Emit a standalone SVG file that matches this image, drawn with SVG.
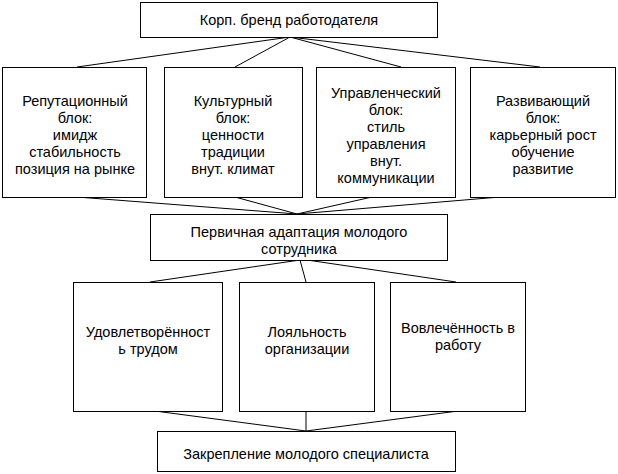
<svg xmlns="http://www.w3.org/2000/svg" width="618" height="474" viewBox="0 0 618 474">
<style>
rect{fill:#fff;stroke:#000;stroke-width:1}
text{font-family:"Liberation Sans",Arial,sans-serif;font-size:14.5px;text-anchor:middle;fill:#000}
#connectors line{stroke:#000;stroke-width:1}
</style>
<rect x="0" y="0" width="618" height="474" style="stroke:none"/>
<g id="connectors">
<line x1="290" y1="37" x2="77" y2="67"/><line x1="290" y1="37" x2="235" y2="67"/><line x1="290" y1="37" x2="401" y2="67"/><line x1="290" y1="37" x2="540" y2="67"/>
<line x1="77" y1="197" x2="297" y2="214"/><line x1="235" y1="197" x2="297" y2="214"/><line x1="372" y1="197" x2="297" y2="214"/><line x1="500" y1="197" x2="297" y2="214"/>
<line x1="300" y1="260" x2="150" y2="282"/><line x1="300" y1="260" x2="306" y2="282"/><line x1="307" y1="260" x2="456" y2="282"/>
<line x1="155" y1="411" x2="306" y2="431"/><line x1="306" y1="411" x2="306" y2="431"/><line x1="458" y1="411" x2="306" y2="431"/>
</g>
<g id="n0"><rect x="140.5" y="2.5" width="297" height="35"/><text x="289" y="25">Корп. бренд работодателя</text></g>
<g id="n1"><rect x="2.5" y="67.5" width="144" height="130"/><text x="75" y="106">Репутационный</text><text x="75" y="123">блок:</text><text x="75" y="140">имидж</text><text x="75" y="157">стабильность</text><text x="75" y="174">позиция на рынке</text></g>
<g id="n2"><rect x="164.5" y="67.5" width="138" height="130"/><text x="233" y="106">Культурный</text><text x="233" y="123">блок:</text><text x="233" y="140">ценности</text><text x="233" y="157">традиции</text><text x="233" y="174">внут. климат</text></g>
<g id="n3"><rect x="316.5" y="67.5" width="139" height="130"/><text x="386" y="98">Управленческий</text><text x="386" y="115">блок:</text><text x="386" y="132">стиль</text><text x="386" y="149">управления</text><text x="386" y="166">внут.</text><text x="386" y="183">коммуникации</text></g>
<g id="n4"><rect x="470.5" y="67.5" width="145" height="130"/><text x="543" y="106">Развивающий</text><text x="543" y="123">блок:</text><text x="543" y="140">карьерный рост</text><text x="543" y="157">обучение</text><text x="543" y="174">развитие</text></g>
<g id="n5"><rect x="150.5" y="214.5" width="297" height="46"/><text x="299" y="237">Первичная адаптация молодого</text><text x="299" y="254">сотрудника</text></g>
<g id="n6"><rect x="73.5" y="282.5" width="149" height="129"/><text x="148" y="337">Удовлетворённост</text><text x="148" y="354">ь трудом</text></g>
<g id="n7"><rect x="239.5" y="282.5" width="135" height="129"/><text x="307" y="337">Лояльность</text><text x="307" y="354">организации</text></g>
<g id="n8"><rect x="390.5" y="282.5" width="135" height="129"/><text x="458" y="333">Вовлечённость в</text><text x="458" y="350">работу</text></g>
<g id="n9"><rect x="157.5" y="431.5" width="298" height="40"/><text x="306" y="459">Закрепление молодого специалиста</text></g>
</svg>
